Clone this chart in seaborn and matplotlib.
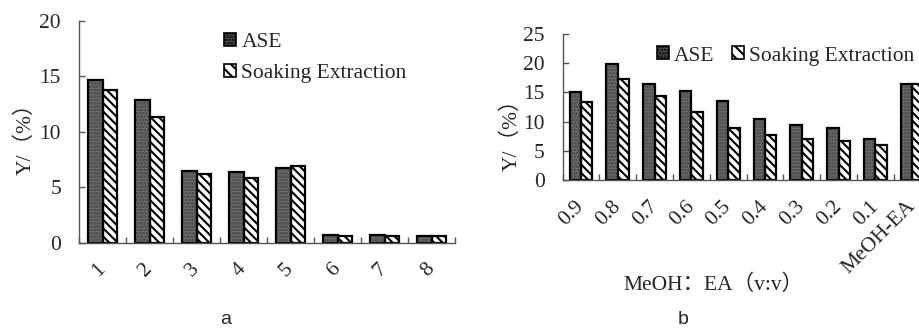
import numpy as np
import pandas as pd
import matplotlib
matplotlib.use("Agg")
import matplotlib.pyplot as plt
import seaborn as sns
from matplotlib.patches import Patch, Rectangle

sns.set_theme(style="white")
plt.rcParams['font.family'] = ['Liberation Serif', 'Noto Sans CJK SC']
plt.rcParams['hatch.linewidth'] = 1.5

methods = ["ASE", "Soaking Extraction"]

# panel a: extraction yield for samples 1-8
cats_a = ["1", "2", "3", "4", "5", "6", "7", "8"]
ase_a = [14.7, 12.9, 6.45, 6.42, 6.8, 0.75, 0.75, 0.66]
soak_a = [13.8, 11.33, 6.24, 5.9, 6.9, 0.63, 0.66, 0.63]

# panel b: yield vs. MeOH:EA solvent ratio
cats_b = ["0.9", "0.8", "0.7", "0.6", "0.5", "0.4", "0.3", "0.2", "0.1", "MeOH-EA"]
ase_b = [15.1, 19.8, 16.4, 15.3, 13.6, 10.5, 9.5, 8.86, 7.1, 16.4]
soak_b = [13.35, 17.3, 14.3, 11.65, 9.0, 7.67, 7.0, 6.65, 6.0, 16.4]

ASE_FACE = "#727272"
ASE_DOT = "#404040"
STRIPE = "\\\\\\\\"
DOTS = "....."
FS = 15.5
AXIS_GRAY = "#555555"


def long_frame(cats, ase, soak):
    return pd.DataFrame({
        "cat": cats * 2,
        "method": [methods[0]] * len(cats) + [methods[1]] * len(cats),
        "value": list(ase) + list(soak),
    })


def style_bars(ax):
    for container, meth in zip(ax.containers, methods):
        for p in container:
            if meth == "ASE":
                p.set_facecolor(ASE_FACE)
                p.set_edgecolor(ASE_DOT)
                p.set_hatch(DOTS)
            else:
                p.set_facecolor("white")
                p.set_edgecolor("black")
                p.set_hatch(STRIPE)
            p.set_linewidth(0)
            ax.add_patch(Rectangle(p.get_xy(), p.get_width(), p.get_height(),
                                   fill=False, ec="black", lw=1.6,
                                   zorder=p.get_zorder() + 0.1))


def style_axes(ax, n, ymax, step):
    ax.set_xlim(-0.5, n - 0.5)
    ax.set_ylim(0, ymax)
    ax.set_yticks(np.arange(0, ymax + 0.1, step))
    ax.set_xticks(np.arange(n + 1) - 0.5, minor=True)
    ax.tick_params(axis="x", which="major", length=0, pad=17, labelsize=FS)
    ax.tick_params(axis="x", which="minor", direction="in", length=4,
                   width=1, color=AXIS_GRAY, bottom=True)
    ax.tick_params(axis="y", which="major", direction="in", length=4,
                   width=1, color=AXIS_GRAY, left=True, labelsize=FS, pad=13)
    for s in ["top", "right"]:
        ax.spines[s].set_visible(False)
    for s in ["left", "bottom"]:
        ax.spines[s].set_color(AXIS_GRAY)
        ax.spines[s].set_linewidth(1.0)
    for lab in ax.get_xticklabels():
        lab.set_rotation(45)
        lab.set_ha("right")
        lab.set_va("center")
        lab.set_rotation_mode("anchor")
    ax.set_xlabel("")


fig = plt.figure(figsize=(9.2, 3.29), dpi=100)
ax1 = fig.add_axes([0.0859, 0.2614, 0.4087, 0.6748])
ax2 = fig.add_axes([0.6116, 0.452, 0.4, 0.4456])

sns.barplot(data=long_frame(cats_a, ase_a, soak_a), x="cat", y="value",
            hue="method", hue_order=methods, order=cats_a, width=0.6,
            gap=0, legend=False, ax=ax1)
sns.barplot(data=long_frame(cats_b, ase_b, soak_b), x="cat", y="value",
            hue="method", hue_order=methods, order=cats_b, width=0.62,
            gap=0, legend=False, ax=ax2)

for ax in (ax1, ax2):
    style_bars(ax)
style_axes(ax1, len(cats_a), 20, 5)
style_axes(ax2, len(cats_b), 25, 5)

ax1.set_ylabel("Y/（%）", fontsize=FS)
ax1.yaxis.set_label_coords(-0.114, 0.49)
ax2.set_ylabel("Y/（%）", fontsize=FS)
ax2.yaxis.set_label_coords(-0.11, 0.343)

ax2.set_xlabel("MeOH：EA（v:v）", fontsize=FS)
ax2.xaxis.set_label_coords(0.41, -0.64)

handles = [
    Patch(facecolor="#555555", edgecolor="black", hatch=DOTS, lw=1.2, label=methods[0]),
    Patch(facecolor="white", edgecolor="black", hatch="\\\\\\", lw=1.2, label=methods[1]),
]
ax1.legend(handles=handles, loc="upper left", bbox_to_anchor=(0.386, 0.945),
           frameon=False, fontsize=FS, handlelength=0.55, handleheight=0.55,
           handletextpad=0.25, labelspacing=0.55, borderpad=0, borderaxespad=0)
ax2.legend(handles=handles, loc="center left", bbox_to_anchor=(0.256, 0.848),
           frameon=False, fontsize=FS, ncol=2, handlelength=0.55,
           handleheight=0.55, handletextpad=0.25, columnspacing=0.8,
           borderpad=0, borderaxespad=0)

fig.text(226 / 920, 1 - 320 / 329, "a", family="Liberation Sans", fontsize=14,
         ha="center", va="center")
fig.text(683 / 920, 1 - 320 / 329, "b", family="Liberation Sans", fontsize=14,
         ha="center", va="center")

fig.savefig("out.png", dpi=100)
